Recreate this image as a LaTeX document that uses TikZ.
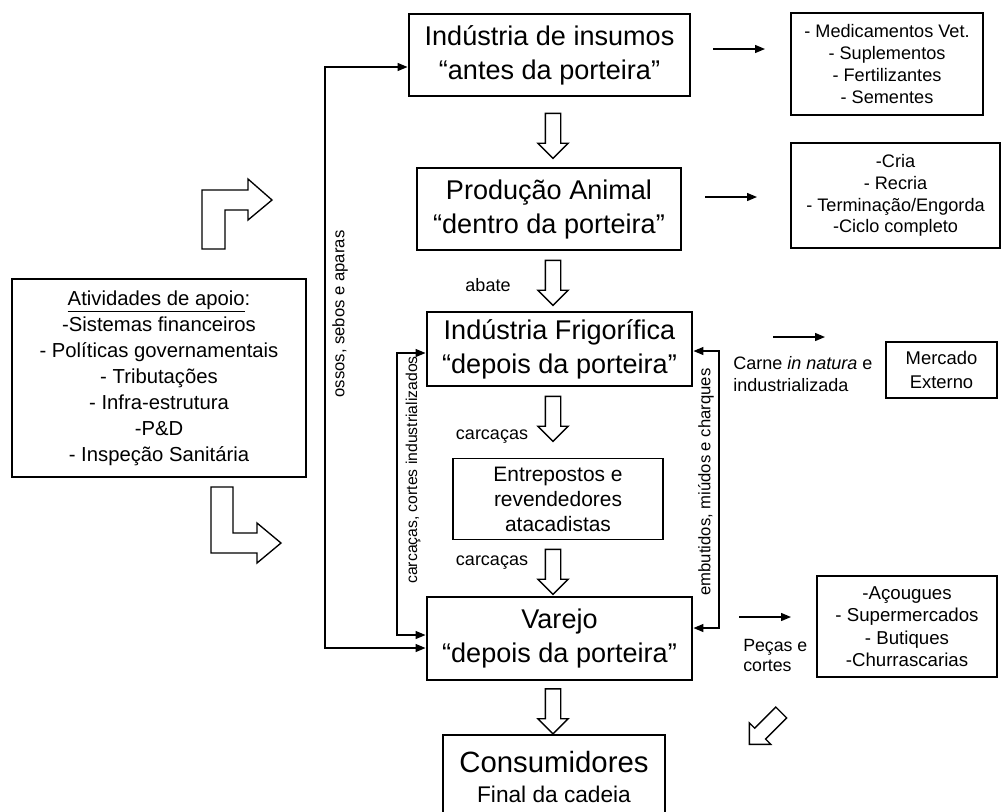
\documentclass[tikz,border=0pt]{standalone}
\usepackage{fontspec}
\setmainfont{Liberation Sans}
\usetikzlibrary{arrows.meta,shapes.arrows}

\newcommand{\bigtxt}{\fontsize{20.3}{25.5}\selectfont}
\newcommand{\midtxt}{\fontsize{15.7}{18.75}\selectfont}
\newcommand{\apoiotxt}{\fontsize{15.2}{19.5}\selectfont}
\newcommand{\sidetxt}{\fontsize{13.6}{16.4}\selectfont}
\newcommand{\lbltxt}{\fontsize{13.5}{16.5}\selectfont}
\newcommand{\vlbltxt}{\fontsize{12.5}{15}\selectfont}

\tikzset{
  mainbox/.style={draw, line width=2.2pt, align=center, font=\bigtxt, inner sep=0pt},
  sidebox/.style={draw, line width=1pt, align=center, font=\sidetxt, inner sep=0pt},
  hollowarr/.style={single arrow, draw, line width=1pt, rotate=-90, inner sep=5.25pt,
    single arrow head extend=5.6pt, minimum height=33.75pt, minimum width=0pt},
  flow/.style={-{Triangle[length=7.5pt,width=6pt]}, line width=1pt},
  twoway/.style={{Triangle[length=7.5pt,width=6pt]}-{Triangle[length=7.5pt,width=6pt]}, line width=1pt},
  lbl/.style={font=\lbltxt, inner sep=0pt, align=left},
  vlbl/.style={font=\vlbltxt, inner sep=0pt, rotate=90}
}

\begin{document}
\begin{tikzpicture}[x=0.75pt, y=-0.75pt, line join=miter]
\clip (0,0) rectangle (1005,811);

% main chain
\node[mainbox, minimum width=210.75pt, minimum height=61.5pt] (ins) at (549.5,55)
  {Indústria de insumos\\“antes da porteira”};
\node[mainbox, minimum width=198pt, minimum height=61.5pt] (prod) at (549,209)
  {Produção Animal\\“dentro da porteira”};
\node[mainbox, minimum width=198.75pt, minimum height=55.5pt] (frig) at (559.5,349)
  {Indústria Frigorífica\\“depois da porteira”};
\node[sidebox, font=\midtxt, minimum width=157.5pt, minimum height=60.75pt] (ent) at (558,499)
  {Entrepostos e\\revendedores\\atacadistas};
\node[mainbox, minimum width=198.75pt, minimum height=62.25pt] (var) at (559.5,638.5)
  {Varejo\\“depois da porteira”};
\node[mainbox, minimum width=166.5pt, minimum height=63pt] (cons) at (554,777)
  {\fontsize{22}{25}\selectfont Consumidores\\[-3pt]{\fontsize{17}{20}\selectfont Final da cadeia}};

% hollow arrows down the chain
\node[hollowarr] (a1) at (553,132) {};
\node[hollowarr] (a2) at (553,279) {};
\node[hollowarr] (a3) at (553,415) {};
\node[hollowarr] (a4) at (553,568) {};
\node[hollowarr] (a5) at (553,707.5) {};
\node[hollowarr, rotate=-45] (a6) at (768,725.7) {};

\node[lbl] (labate) at (488,285) {abate};
\node[lbl] (lcarc1) at (492,437) {carcaças};
\node[lbl] (lcarc2) at (492,563) {carcaças};

% support activities
\node[sidebox, font=\apoiotxt, minimum width=220.5pt, minimum height=148.5pt] (apoio) at (159,378)
  {\underline{Atividades de apoio}:\\-Sistemas financeiros\\- Políticas governamentais\\- Tributações\\- Infra-estrutura\\-P\&D\\- Inspeção Sanitária};

\draw[line width=1pt] (202,249) -- (202,190) -- (248,190) -- (248,179) -- (272,200)
  -- (248,220) -- (248,210) -- (225,210) -- (225,249) -- cycle;
\draw[line width=1pt] (211,487) -- (211,553) -- (257,553) -- (257,563) -- (281,543)
  -- (257,523) -- (257,533) -- (233,533) -- (233,487) -- cycle;

% side flows
\draw[twoway] (ins.west |- 0,67) -| (325,400) |- (var.west |- 0,648);
\node[vlbl] (lossos) at (340,314) {ossos, sebos e aparas};

\draw[twoway] (frig.west |- 0,353) -| (397,500) |- (var.west |- 0,635);
\node[vlbl, font=\fontsize{11.8}{14}\selectfont] (lcortes) at (413,470) {carcaças, cortes industrializados};

\draw[twoway] (frig.east |- 0,351) -| (719,500) |- (var.east |- 0,628);
\node[vlbl] (lembut) at (706,482) {embutidos, miúdos e charques};

% right column
\node[sidebox, minimum width=144pt, minimum height=76.5pt] (med) at (887,64)
  {- Medicamentos Vet.\\- Suplementos\\- Fertilizantes\\- Sementes};
\node[sidebox, minimum width=156.75pt, minimum height=78.75pt] (cria) at (895.5,195.5)
  {-Cria\\- Recria\\- Terminação/Engorda\\-Ciclo completo};
\node[sidebox, font=\fontsize{13.8}{18.5}\selectfont, minimum width=83.25pt, minimum height=42pt] (merc) at (941.5,370)
  {Mercado\\Externo};
\node[sidebox, font=\fontsize{14}{16.8}\selectfont, minimum width=135pt, minimum height=75.75pt] (acou) at (907,626.5)
  {-Açougues\\- Supermercados\\- Butiques\\-Churrascarias};

\coordinate (s1) at (713,49);
\coordinate (s2) at (705,197);
\coordinate (s3) at (773,337);
\coordinate (s4) at (739,617);
\draw[flow] (s1) -- ++(52,0);
\draw[flow] (s2) -- ++(52,0);
\draw[flow] (s3) -- ++(52,0);
\draw[flow] (s4) -- ++(52,0);

\node[lbl, anchor=west] (lcarne) at (733,374) {Carne \textit{in natura} e\\industrializada};
\node[lbl, anchor=west, font=\fontsize{13.3}{15}\selectfont] (lpecas) at (743,655) {Peças e\\cortes};
\end{tikzpicture}
\end{document}
